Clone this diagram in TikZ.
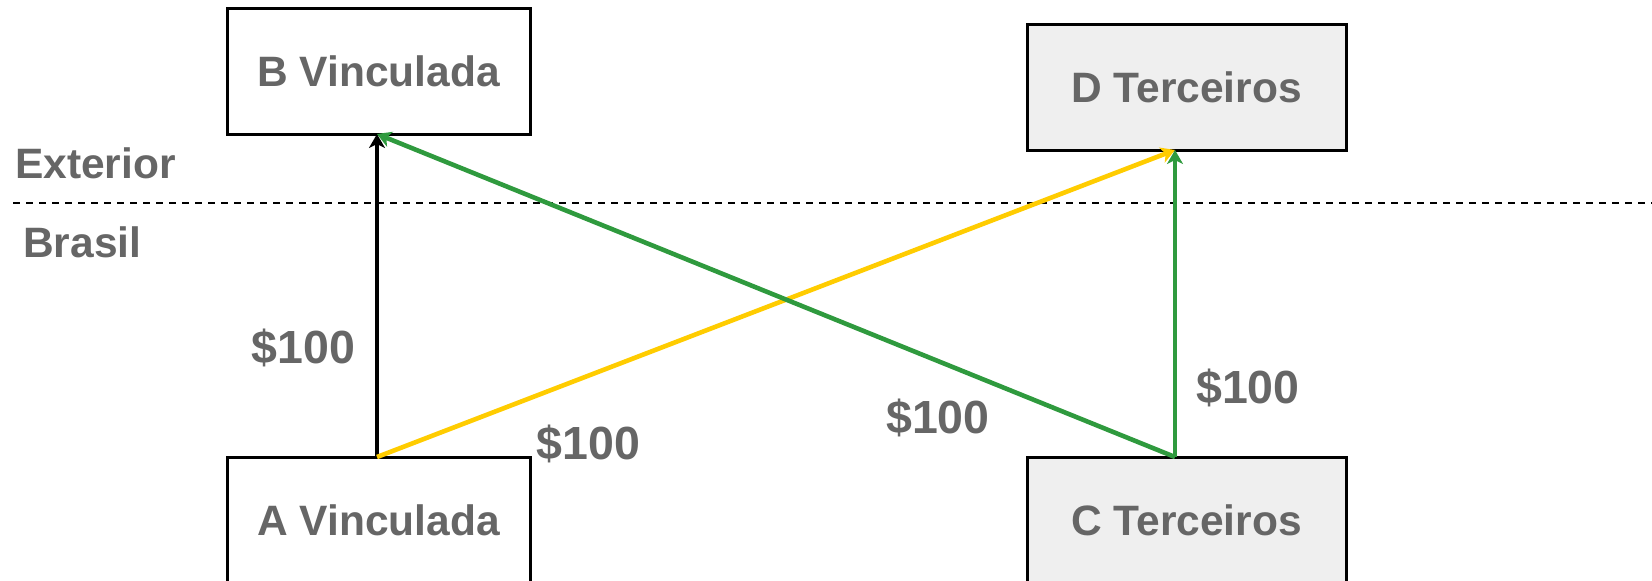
\documentclass[tikz,border=0pt]{standalone}
\usepackage{fontspec}
\setmainfont{Liberation Sans}
\usetikzlibrary{arrows.meta}
\definecolor{txtgray}{HTML}{666666}
\definecolor{boxgray}{HTML}{EFEFEF}
\definecolor{flowgreen}{HTML}{2F9A3E}
\definecolor{flowyellow}{HTML}{FFCC00}
\tikzset{
  entity/.style={draw=black, line width=3pt, inner sep=0pt, outer sep=0pt,
    font=\fontsize{42.5}{48}\selectfont\bfseries, text=txtgray},
  whitebox/.style={entity, fill=white, minimum width=303pt, minimum height=126pt},
  graybox/.style={entity, fill=boxgray, minimum width=319pt, minimum height=126pt},
  zonelabel/.style={font=\fontsize{42.5}{48}\selectfont\bfseries, text=txtgray, inner sep=0pt},
  amount/.style={font=\fontsize{46.5}{52}\selectfont\bfseries, text=txtgray, inner sep=0pt, anchor=base},
  flow/.style={line width=4.6pt, -{Stealth[length=14pt,width=16pt,inset=4pt]}},
}
\begin{document}
\begin{tikzpicture}[x=1pt,y=-1pt]
\useasboundingbox (0,0) rectangle (1652,581);
\begin{scope}
\clip (0,0) rectangle (1652,581);
% boxes
\node[whitebox] (B) at (378.5,71) {B Vinculada};
\node[graybox] (D) at (1186.5,87) {D Terceiros};
\node[whitebox] (A) at (378.5,520) {A Vinculada};
\node[graybox] (C) at (1186.5,520) {C Terceiros};
% border line
\coordinate (L) at (13,203);
\coordinate (R) at (1652,203);
\draw[line width=2pt, dash pattern=on 7pt off 6pt] (L) -- (R);
\node[zonelabel, anchor=base west] (ext) at (15,178) {Exterior};
\node[zonelabel, anchor=base west] (bra) at (23,257) {Brasil};
% connection points
\coordinate (aTop) at ([xshift=-1.5pt]A.north);
\coordinate (bBot) at ([xshift=-1.5pt]B.south);
\coordinate (cTop) at ([xshift=-11.5pt]C.north);
\coordinate (dBot) at ([xshift=-11.5pt]D.south);
% flows
\draw[flow, draw=black] (aTop) -- (bBot);
\draw[flow, draw=flowyellow] (aTop) -- (dBot);
\draw[flow, draw=flowgreen] (cTop) -- (bBot);
\draw[flow, draw=flowgreen] (cTop) -- (dBot);
% amounts
\node[amount] (m1) at (303.5,363) {\$100};
\node[amount] (m2) at (588.5,459) {\$100};
\node[amount] (m3) at (938,433) {\$100};
\node[amount] (m4) at (1248,403) {\$100};
\end{scope}
\end{tikzpicture}
\end{document}
